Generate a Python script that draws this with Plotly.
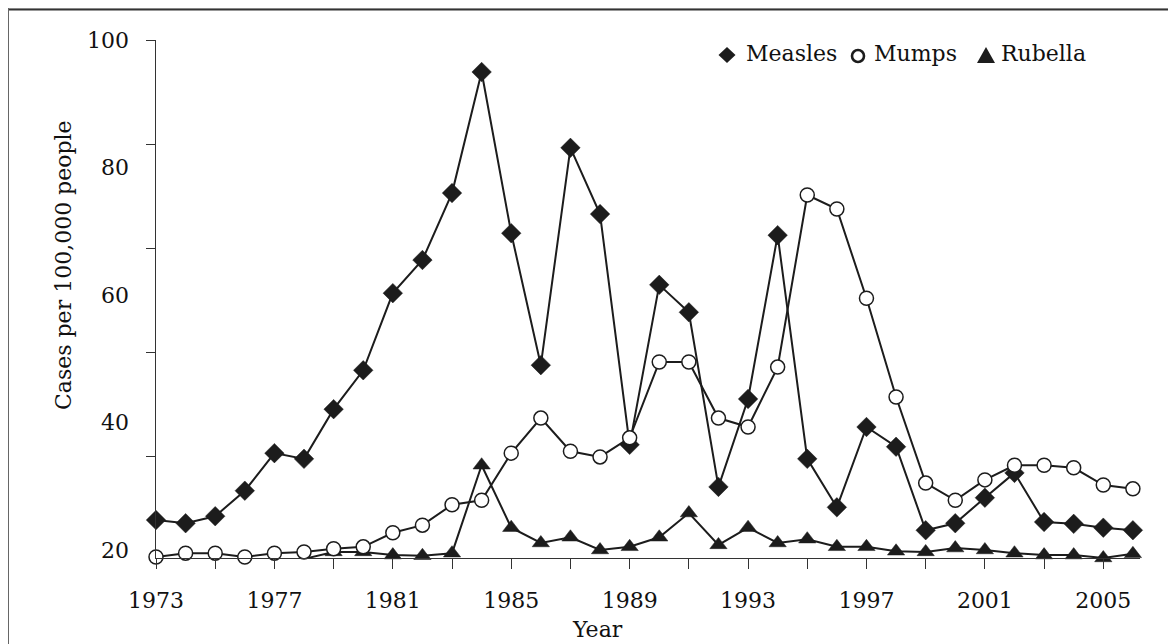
import plotly.graph_objects as go

years = list(range(1973, 2007))

measles = [24.7, 24.2, 25.3, 29.3, 35.2, 34.3, 42.1, 48.2, 60.3, 65.5,
           76.0, 95.0, 69.7, 49.0, 83.1, 72.7, 36.5, 61.6, 57.3, 29.9,
           43.7, 69.4, 34.3, 26.7, 39.3, 36.2, 23.1, 24.2, 28.2, 32.1,
           24.4, 24.1, 23.5, 23.1]

mumps = [18.9, 19.5, 19.5, 18.9, 19.5, 19.7, 20.2, 20.5, 22.7, 23.9,
         27.1, 27.8, 35.2, 40.7, 35.5, 34.6, 37.6, 49.5, 49.5, 40.7,
         39.3, 48.7, 75.7, 73.5, 59.5, 44.0, 30.5, 27.8, 31.0, 33.3,
         33.3, 32.9, 30.2, 29.6]

rubella = [18.4, 18.4, 18.4, 18.4, 18.4, 18.6, 19.7, 19.7, 19.2, 19.1,
           19.5, 33.3, 23.5, 21.1, 22.0, 20.0, 20.5, 22.0, 25.8, 20.8,
           23.5, 21.1, 21.7, 20.5, 20.5, 19.8, 19.7, 20.3, 20.0, 19.5,
           19.2, 19.2, 18.75, 19.4]

y_labels = [20, 40, 60, 80, 100]
x_labels = list(range(1973, 2006, 4))

y_title = "Cases per 100,000 people"
x_title = "Year"

FONT = "DejaVu Serif"
INK = "#1c1c1c"

# the page body adds an 8px margin, so the figure is 8px smaller and
# every screen position below is shifted by -8
OFF = 8
W, H = 1176 - OFF, 644 - OFF
L, R, T, B = 156 - OFF, 1140 - OFF, 40 - OFF, 558 - OFF


def px(x):
    return (x - OFF - L) / (R - L)


def py(y):
    return (B - (y - OFF)) / (B - T)


fig = go.Figure()

line = dict(color=INK, width=2)

fig.add_trace(go.Scatter(
    x=years, y=rubella, mode="lines+markers", name="Rubella",
    line=line, cliponaxis=False,
    marker=dict(symbol="triangle-up", size=15, color=INK,
                line=dict(color=INK, width=0.5))))
fig.add_trace(go.Scatter(
    x=years, y=measles, mode="lines+markers", name="Measles",
    line=line, cliponaxis=False,
    marker=dict(symbol="diamond", size=15, color=INK,
                line=dict(color=INK, width=0.5))))
fig.add_trace(go.Scatter(
    x=years, y=mumps, mode="lines+markers", name="Mumps",
    line=line, cliponaxis=False,
    marker=dict(symbol="circle", size=14, color="white",
                line=dict(color=INK, width=1.5))))
# dummy trace to activate the tick axis
fig.add_trace(go.Scatter(x=[1990], y=[50], yaxis="y2", mode="markers",
                         marker=dict(opacity=0), showlegend=False,
                         hoverinfo="skip"))

fig.update_layout(
    width=W, height=H, autosize=False,
    margin=dict(l=L, r=W - R, t=T, b=H - B),
    paper_bgcolor="white", plot_bgcolor="white",
    showlegend=False,
    font=dict(family=FONT, size=22, color="#111"),
    xaxis=dict(range=[1973, 2006.24], tickmode="array", tickvals=x_labels,
               ticks="outside", ticklen=10, tickwidth=1.2, tickcolor="#333",
               minor=dict(dtick=2, tick0=1973, ticks="outside", ticklen=10,
                          tickwidth=1.2, tickcolor="#333"),
               showline=True, linecolor="#333", linewidth=1.3,
               showgrid=False, zeroline=False, ticklabelstandoff=12,
               tickfont=dict(family=FONT, size=22, color="#111")),
    yaxis=dict(range=[18.745, 100.02], tickmode="array", tickvals=y_labels,
               ticks="", showline=False, showgrid=False, zeroline=False,
               ticklabelstandoff=26,
               tickfont=dict(family=FONT, size=22, color="#111")),
    yaxis2=dict(range=[0.576, 100.02], overlaying="y", side="left",
                tickmode="array", tickvals=y_labels, ticks="outside",
                ticklen=9, tickwidth=1.2, tickcolor="#333",
                showticklabels=False, showline=True, linecolor="#333",
                linewidth=1.3, showgrid=False, zeroline=False),
)

shapes = [
    # header band (only its lower edge falls inside the page)
    dict(type="rect", xref="paper", yref="paper", x0=px(8), x1=px(1180),
         y0=py(9), y1=py(0), fillcolor="#dcdcdc", line=dict(width=0),
         layer="below"),
    dict(type="line", xref="paper", yref="paper", x0=px(8), x1=px(1180),
         y0=py(9.5), y1=py(9.5), line=dict(color="#333", width=2)),
    # left frame border
    dict(type="line", xref="paper", yref="paper", x0=px(8.5), x1=px(8.5),
         y0=py(0), y1=py(650), line=dict(color="#666", width=1)),
    # legend symbols
    dict(type="path", xref="paper", yref="paper",
         path="M {} {} L {} {} L {} {} L {} {} Z".format(
             px(727), py(47), px(735.5), py(55), px(727), py(63), px(718.5), py(55)),
         fillcolor=INK, line=dict(width=0)),
    dict(type="circle", xref="paper", yref="paper",
         x0=px(852), x1=px(864), y0=py(50), y1=py(62),
         fillcolor="white", line=dict(color=INK, width=2.6)),
    dict(type="path", xref="paper", yref="paper",
         path="M {} {} L {} {} L {} {} Z".format(
             px(986), py(47), px(995), py(63), px(977), py(63)),
         fillcolor=INK, line=dict(width=0)),
]

annotations = [
    dict(text="Measles", xref="paper", yref="paper", x=px(744), y=py(54),
         xanchor="left", yanchor="middle", showarrow=False,
         font=dict(family=FONT, size=22, color="#111")),
    dict(text="Mumps", xref="paper", yref="paper", x=px(872), y=py(54),
         xanchor="left", yanchor="middle", showarrow=False,
         font=dict(family=FONT, size=22, color="#111")),
    dict(text="Rubella", xref="paper", yref="paper", x=px(999), y=py(54),
         xanchor="left", yanchor="middle", showarrow=False,
         font=dict(family=FONT, size=22, color="#111")),
    dict(text=y_title, xref="paper", yref="paper", x=px(63), y=py(265),
         xanchor="center", yanchor="middle", textangle=-90, showarrow=False,
         font=dict(family=FONT, size=22, color="#111")),
    dict(text=x_title, xref="paper", yref="paper", x=px(597), y=py(629),
         xanchor="center", yanchor="middle", showarrow=False,
         font=dict(family=FONT, size=22, color="#111")),
]

fig.update_layout(shapes=shapes, annotations=annotations)

fig.write_html("out.html")
